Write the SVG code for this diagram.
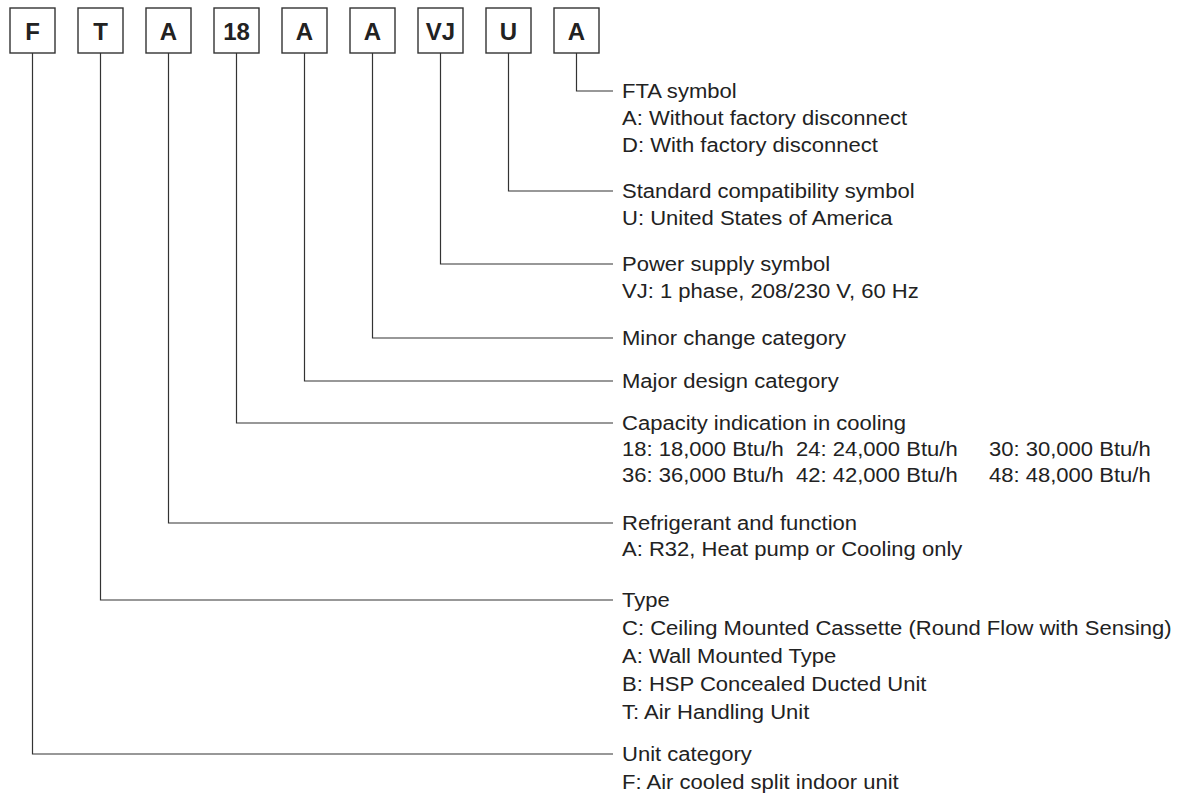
<svg xmlns="http://www.w3.org/2000/svg" width="1193" height="798" viewBox="0 0 1193 798">
<style>
.box{fill:#fff;stroke:#333;stroke-width:1.4}
.bt{font-family:"Liberation Sans",Arial,sans-serif;font-weight:bold;font-size:24px;fill:#222;text-anchor:middle}
.ln{fill:none;stroke:#333;stroke-width:1.2}
.d{font-family:"Liberation Sans",Arial,sans-serif;font-size:19.5px;fill:#222}
</style>
<rect width="1193" height="798" fill="#fff"/>
<g id="n1"><rect class="box" x="10" y="8" width="45" height="45"/><text class="bt" x="32.5" y="40">F</text></g>
<g id="n2"><rect class="box" x="78" y="8" width="45" height="45"/><text class="bt" x="100.5" y="40">T</text></g>
<g id="n3"><rect class="box" x="146" y="8" width="45" height="45"/><text class="bt" x="168.5" y="40">A</text></g>
<g id="n4"><rect class="box" x="214" y="8" width="45" height="45"/><text class="bt" x="236.5" y="40">18</text></g>
<g id="n5"><rect class="box" x="282" y="8" width="45" height="45"/><text class="bt" x="304.5" y="40">A</text></g>
<g id="n6"><rect class="box" x="350" y="8" width="45" height="45"/><text class="bt" x="372.5" y="40">A</text></g>
<g id="n7"><rect class="box" x="418" y="8" width="45" height="45"/><text class="bt" x="440.5" y="40">VJ</text></g>
<g id="n8"><rect class="box" x="486" y="8" width="45" height="45"/><text class="bt" x="508.5" y="40">U</text></g>
<g id="n9"><rect class="box" x="554" y="8" width="45" height="45"/><text class="bt" x="576.5" y="40">A</text></g>
<g id="connectors">
<polyline class="ln" points="576.5,53 576.5,91 613,91"/>
<polyline class="ln" points="508.5,53 508.5,191 613,191"/>
<polyline class="ln" points="440.5,53 440.5,264 613,264"/>
<polyline class="ln" points="372.5,53 372.5,338 613,338"/>
<polyline class="ln" points="304.5,53 304.5,381 613,381"/>
<polyline class="ln" points="236.5,53 236.5,423 613,423"/>
<polyline class="ln" points="168.5,53 168.5,523 613,523"/>
<polyline class="ln" points="100.5,53 100.5,600 613,600"/>
<polyline class="ln" points="32.5,53 32.5,754 613,754"/>
</g>
<g id="labels" class="d" transform="translate(622,7) scale(1.13,1)">
<text x="0" y="91">FTA symbol</text>
<text x="0" y="118">A: Without factory disconnect</text>
<text x="0" y="145">D: With factory disconnect</text>
<text x="0" y="191">Standard compatibility symbol</text>
<text x="0" y="218">U: United States of America</text>
<text x="0" y="264">Power supply symbol</text>
<text x="0" y="291">VJ: 1 phase, 208/230 V, 60 Hz</text>
<text x="0" y="338">Minor change category</text>
<text x="0" y="381">Major design category</text>
<text x="0" y="423">Capacity indication in cooling</text>
<text y="449"><tspan x="0">18: 18,000 Btu/h</tspan><tspan x="154">24: 24,000 Btu/h</tspan><tspan x="324.8">30: 30,000 Btu/h</tspan></text>
<text y="475"><tspan x="0">36: 36,000 Btu/h</tspan><tspan x="154">42: 42,000 Btu/h</tspan><tspan x="324.8">48: 48,000 Btu/h</tspan></text>
<text x="0" y="523">Refrigerant and function</text>
<text x="0" y="549">A: R32, Heat pump or Cooling only</text>
<text x="0" y="600">Type</text>
<text x="0" y="628">C: Ceiling Mounted Cassette (Round Flow with Sensing)</text>
<text x="0" y="656">A: Wall Mounted Type</text>
<text x="0" y="684">B: HSP Concealed Ducted Unit</text>
<text x="0" y="712">T: Air Handling Unit</text>
<text x="0" y="754">Unit category</text>
<text x="0" y="782">F: Air cooled split indoor unit</text>
</g>
</svg>
